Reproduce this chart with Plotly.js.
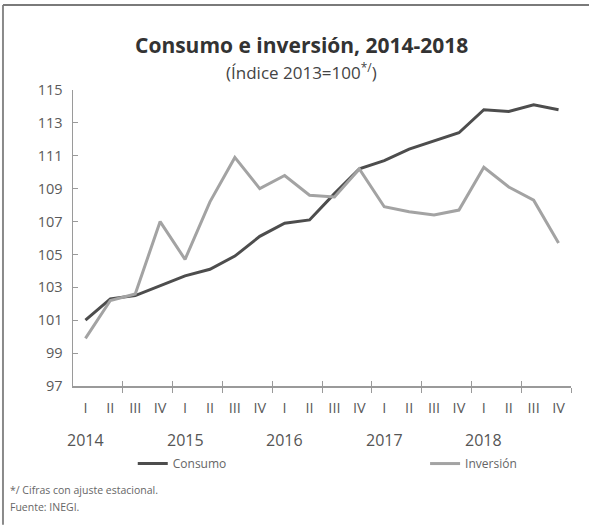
<!DOCTYPE html>
<html>
<head>
<meta charset="utf-8">
<script src="https://cdn.plot.ly/plotly-3.0.1.min.js"></script>
<style>
  html, body { margin: 0; padding: 0; background: #ffffff; }
  #chart { width: 589px; height: 525px; }
</style>
</head>
<body>
<div id="chart"></div>
<script>
// Quarter labels (2014 Q1 .. 2018 Q4)
const quarters = ["I","II","III","IV","I","II","III","IV","I","II","III","IV","I","II","III","IV","I","II","III","IV"];
const years = ["2014","2015","2016","2017","2018"];
const yearIdx = [0, 4, 8, 12, 16];

// Series values (Índice 2013=100, seasonally adjusted)
const consumo = [101.0, 102.3, 102.5, 103.1, 103.7, 104.1, 104.9, 106.1, 106.9, 107.1,
                 108.7, 110.2, 110.7, 111.4, 111.9, 112.4, 113.8, 113.7, 114.1, 113.8];
const inversion = [99.9, 102.2, 102.6, 107.0, 104.7, 108.2, 110.9, 109.0, 109.8, 108.6,
                   108.5, 110.2, 107.9, 107.6, 107.4, 107.7, 110.3, 109.1, 108.3, 105.7];

const yTicks = [97, 99, 101, 103, 105, 107, 109, 111, 113, 115];

const idx = quarters.map((q, i) => i);
const halfTicks = [];
for (let k = 1.5; k < 20; k += 2) halfTicks.push(k);

const traces = [
  {
    x: idx, y: consumo, name: "Consumo", type: "scatter", mode: "lines",
    line: { color: "#4d4d4d", width: 3 }, legend: "legend"
  },
  {
    x: idx, y: inversion, name: "Inversión", type: "scatter", mode: "lines",
    line: { color: "#a3a3a3", width: 3 }, legend: "legend2"
  },
  // invisible trace bound to overlay axis (for crossing tick marks)
  {
    x: [idx[0]], y: [consumo[0]], xaxis: "x2", type: "scatter", mode: "markers",
    marker: { opacity: 0 }, showlegend: false, hoverinfo: "skip"
  }
];

const tickFont = { family: "Open Sans, Lato, sans-serif", size: 14.5, color: "#5a5a5a" };
const legFont = { family: "Open Sans, sans-serif", size: 12, color: "#666" };

const annotations = years.map((yr, k) => ({
  x: yearIdx[k], xref: "x", y: -0.182, yref: "paper",
  text: yr, showarrow: false, xanchor: "center", yanchor: "middle",
  font: { family: "Open Sans, sans-serif", size: 16, color: "#555" }
}));

annotations.push(
  {
    x: 0.458, xref: "paper", y: 1.152, yref: "paper",
    text: "<b>Consumo e inversión, 2014-2018</b>", showarrow: false,
    xanchor: "center", yanchor: "middle",
    font: { family: "Open Sans, sans-serif", size: 21, color: "#333" }
  },
  {
    x: 0.458, xref: "paper", y: 1.061, yref: "paper",
    text: "(Índice 2013=100<sup>*/</sup>)", showarrow: false,
    xanchor: "center", yanchor: "middle",
    font: { family: "Open Sans, sans-serif", size: 17, color: "#444" }
  },
  {
    x: -0.13, xref: "paper", y: -0.351, yref: "paper",
    text: "*/ Cifras con ajuste estacional.", showarrow: false,
    xanchor: "left", yanchor: "middle",
    font: { family: "Open Sans, sans-serif", size: 10.5, color: "#666" }
  },
  {
    x: -0.13, xref: "paper", y: -0.409, yref: "paper",
    text: "Fuente: INEGI.", showarrow: false,
    xanchor: "left", yanchor: "middle",
    font: { family: "Open Sans, sans-serif", size: 10.5, color: "#666" }
  }
);

const layout = {
  width: 589, height: 525,
  margin: { l: 73, r: 18, t: 90, b: 139 },
  paper_bgcolor: "#ffffff", plot_bgcolor: "#ffffff",
  showlegend: true,
  legend: {
    orientation: "h", x: 0.12, xanchor: "left", y: -0.262, yanchor: "middle",
    font: legFont, bgcolor: "rgba(0,0,0,0)"
  },
  legend2: {
    orientation: "h", x: 0.707, xanchor: "left", y: -0.262, yanchor: "middle",
    font: legFont, bgcolor: "rgba(0,0,0,0)"
  },
  xaxis: {
    range: [-0.5, 19.5], tickmode: "array", tickvals: idx, ticktext: quarters,
    ticks: "", showgrid: false, zeroline: false,
    showline: true, linecolor: "#9a9a9a", linewidth: 1.5,
    tickfont: tickFont, ticklabelstandoff: 8,
    minor: { tickmode: "array", tickvals: halfTicks, ticks: "outside", ticklen: 5, tickcolor: "#9a9a9a", tickwidth: 1, showgrid: false }
  },
  xaxis2: {
    overlaying: "x", anchor: "y", range: [-0.5, 19.5], matches: "x",
    tickmode: "array", tickvals: halfTicks, ticks: "inside", ticklen: 5,
    tickcolor: "#9a9a9a", showticklabels: false, showgrid: false, zeroline: false, showline: false
  },
  yaxis: {
    range: [97, 115], tickmode: "array", tickvals: yTicks,
    ticks: "inside", ticklen: 5, tickcolor: "#9a9a9a",
    showgrid: false, zeroline: false,
    showline: true, linecolor: "#9a9a9a", linewidth: 1.5,
    tickfont: tickFont, ticklabelstandoff: 6
  },
  annotations: annotations,
  shapes: [
    { type: "line", xref: "paper", yref: "paper", x0: -0.1406, x1: -0.1406, y0: 1.287, y1: -0.469,
      line: { color: "#8a8a8a", width: 2 } },
    { type: "line", xref: "paper", yref: "paper", x0: -0.1406, x1: 1.04, y0: 1.287, y1: 1.287,
      line: { color: "#7a7a7a", width: 2 } }
  ]
};

Plotly.newPlot("chart", traces, layout, { displayModeBar: false, staticPlot: true });
</script>
</body>
</html>
